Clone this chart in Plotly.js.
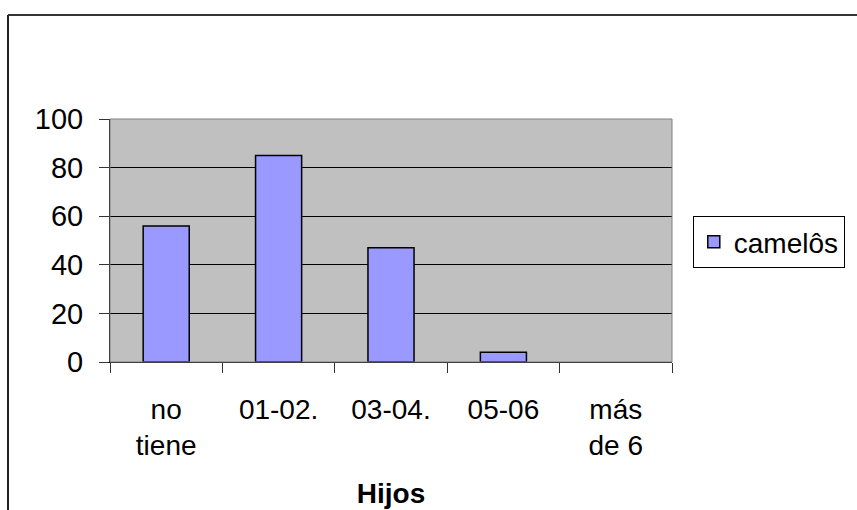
<!DOCTYPE html>
<html>
<head>
<meta charset="utf-8">
<script src="https://cdn.plot.ly/plotly-3.0.1.min.js"></script>
<style>
  html, body { margin: 0; padding: 0; background: #ffffff; }
  #chart { width: 857px; height: 510px; }
</style>
</head>
<body>
<div id="chart"></div>
<script>
// Number of street vendors grouped by how many children they have
const categories = ["no<br>tiene", "01-02.", "03-04.", "05-06", "más<br>de 6"];
const camelosValues = [56, 85, 47, 4, 0];
const seriesName = "camelôs";
const xTitle = "Hijos";
const yTickValues = [0, 20, 40, 60, 80, 100];

const FONT = '"Liberation Sans", Arial, sans-serif';

// empty categories get no outline, so nothing is drawn on the baseline
const outlineWidths = camelosValues.map(v => (v > 0 ? 1.5 : 0));

const trace = {
  type: "bar",
  name: seriesName,
  x: categories,
  y: camelosValues,
  marker: { color: "#9999FF", line: { color: "#000000", width: outlineWidths } },
  hoverinfo: "x+y"
};

const layout = {
  width: 857,
  height: 510,
  margin: { l: 110, r: 185, t: 119, b: 148, pad: 0 },
  paper_bgcolor: "#ffffff",
  plot_bgcolor: "#C0C0C0",
  font: { family: FONT, size: 28, color: "#000000" },
  bargap: 0.59,
  showlegend: true,
  legend: {
    x: 1.037, xanchor: "left",
    y: 0.601, yanchor: "top",
    bgcolor: "#ffffff",
    bordercolor: "#000000",
    borderwidth: 1,
    font: { family: FONT, size: 28, color: "#000000" }
  },
  xaxis: {
    type: "category",
    showgrid: false,
    zeroline: false,
    showline: true,
    linecolor: "#000000",
    linewidth: 1,
    ticks: "outside",
    tickson: "boundaries",
    ticklen: 10,
    tickcolor: "#333333",
    tickwidth: 1,
    ticklabelstandoff: 22,
    tickfont: { family: FONT, size: 28, color: "#000000" },
    title: { text: "<b>" + xTitle + "</b>", font: { family: FONT, size: 28, color: "#000000" }, standoff: 23 },
    automargin: false,
    fixedrange: true
  },
  yaxis: {
    range: [0, 100],
    tickvals: yTickValues,
    showgrid: true,
    gridcolor: "#000000",
    gridwidth: 1,
    zeroline: false,
    showline: true,
    linecolor: "#000000",
    linewidth: 1,
    ticks: "outside",
    ticklen: 10,
    tickcolor: "#333333",
    tickwidth: 1,
    ticklabelstandoff: 10,
    tickfont: { family: FONT, size: 29, color: "#000000" },
    automargin: false,
    fixedrange: true
  },
  shapes: [
    // grey border of the plotting area
    { type: "rect", xref: "paper", yref: "paper", x0: 0, x1: 1, y0: 0, y1: 1,
      line: { color: "#808080", width: 1 }, layer: "above" },
    // outer chart frame (left and top edges)
    { type: "line", xref: "paper", yref: "paper", x0: -0.1815, x1: -0.1815, y0: 1.428, y1: -0.7,
      line: { color: "#222222", width: 2 } },
    { type: "line", xref: "paper", yref: "paper", x0: -0.1815, x1: 1.4, y0: 1.428, y1: 1.428,
      line: { color: "#333333", width: 2 } }
  ]
};

Plotly.newPlot("chart", [trace], layout, { displayModeBar: false, staticPlot: true });
</script>
</body>
</html>
